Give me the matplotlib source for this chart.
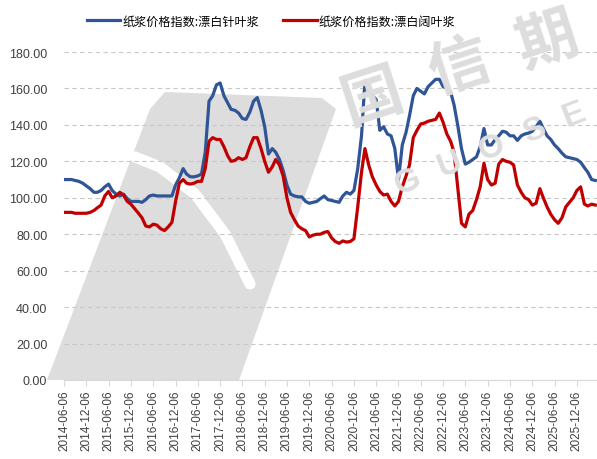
import matplotlib
matplotlib.use('Agg')
import matplotlib.pyplot as plt
import matplotlib.dates as mdates
from matplotlib.patches import Polygon
import pandas as pd

# monthly readings, starting 2014-06
blue = [110, 110, 110, 109.5, 109, 108, 106.5, 105, 103, 103, 104, 106,
        107.5, 104, 102, 101, 102, 99.5, 98, 98, 98, 97.5, 99, 101,
        101.5, 101, 101, 101, 101, 101, 107, 111, 116, 113, 111.5, 111.5,
        112, 113, 125, 153, 156, 162, 163, 156, 152, 148.5, 148, 146.5,
        143.5, 143, 147, 153, 155, 148, 139, 124, 127, 125, 121, 115,
        107, 102, 101, 100.5, 100.5, 98, 97, 97.5, 98, 99.5, 101, 99,
        98.5, 98, 97.5, 101, 103, 102, 104, 116, 134, 164, 158, 156,
        154, 137, 139, 135, 134, 127, 110, 129, 136, 145, 156, 160,
        158.5, 157, 161, 163, 165, 165, 161, 160, 158, 151, 139.5, 127,
        118.5, 119.5, 121, 122.5, 128, 138, 129, 129, 132, 134, 136.5, 136,
        134, 134, 131.5, 134, 135, 135.5, 136.5, 139, 142, 138, 134, 132,
        129, 127, 124.5, 122.5, 122, 121.5, 121, 119.5, 116.5, 114, 110, 109.5]
red = [92, 92, 92, 91.5, 91.5, 91.5, 91.5, 92, 93, 94.5, 96, 101,
       103.5, 100, 101, 103, 101.5, 98, 96.5, 94, 91.5, 89, 84.5, 84,
       85.5, 85, 83, 82, 84, 86.5, 98, 108, 110, 108, 107.5, 108,
       109, 109, 116, 131, 133, 132, 132, 128, 123, 120, 120.5, 122,
       121, 122, 128, 133, 133, 127, 120, 114, 117, 121, 118, 112,
       100, 92, 88, 84.5, 83, 82, 78.5, 79.5, 80, 80, 81, 81.5,
       78, 76, 75, 76.3, 75.7, 76, 77.5, 95, 114, 127, 118, 111.5,
       107, 103.5, 101.5, 102, 98, 95.5, 98, 106, 112, 118, 133, 137,
       140.5, 141, 142, 142.5, 143, 146.5, 141.5, 135, 131, 125, 105, 86,
       84, 91, 93, 99, 106, 119, 110, 107, 108, 118.5, 121, 120,
       119.5, 118, 107, 103, 100, 99, 96, 97, 105, 100, 95, 91,
       88, 86, 89, 95, 97.5, 100, 104, 106, 96.5, 95.5, 96.5, 96]
names = ['纸浆价格指数:漂白针叶浆', '纸浆价格指数:漂白阔叶浆']
dates = pd.date_range('2014-06-06', periods=len(blue), freq=pd.DateOffset(months=1))
tick_dates = pd.date_range('2014-06-06', '2025-12-06', freq=pd.DateOffset(months=6))

W, H = 597, 460
fig = plt.figure(figsize=(W / 100, H / 100), dpi=100)
ax = fig.add_axes([64 / W, 1 - 381 / H, 1 - 64 / W, (381 - 53) / H])

# watermark (light grey logo + text)
def px(x, y):
    return (x / W, 1 - y / H)

wm = '#dddddd'
poly = Polygon([px(*p) for p in [(165, 93), (322, 99), (336, 110), (239, 381), (47, 381), (150, 110)]],
               closed=True, transform=fig.transFigure, facecolor=wm, edgecolor='none',
               zorder=0.1, clip_on=False)
ax.add_patch(poly)
sx = [135, 160, 195, 225, 250]
sy = [158, 168, 195, 235, 285]
ax.plot([px(a, b)[0] for a, b in zip(sx, sy)], [px(a, b)[1] for a, b in zip(sx, sy)],
        color='white', lw=8, solid_capstyle='round', transform=fig.transFigure,
        zorder=0.2, clip_on=False)
for ch, (x, y) in zip('国信期', [(372, 98), (460, 68), (548, 42)]):
    fig.text(*px(x, y), ch, fontsize=44, fontweight='bold', color=wm, rotation=18,
             ha='center', va='center', family=['Noto Sans CJK SC', 'DejaVu Sans'], zorder=0)
for ch, (x, y) in zip('GUOSE', [(408, 182), (450, 165), (492, 148), (534, 131), (574, 115)]):
    fig.text(*px(x, y), ch, fontsize=24, fontweight='bold', color=wm, rotation=21,
             ha='center', va='center', family='Liberation Sans', zorder=0)

ax.plot(dates, blue, color='#2F5597', lw=2.3, label=names[0], zorder=3)
ax.plot(dates, red, color='#C00000', lw=2.3, label=names[1], zorder=3)

ax.set_ylim(0, 180)
ax.set_yticks(range(0, 181, 20))
ax.set_yticklabels([f'{v:.2f}' for v in range(0, 181, 20)])
ax.set_xlim(dates[0], pd.Timestamp('2026-05-20'))
ax.set_xticks(tick_dates)
ax.xaxis.set_major_formatter(mdates.DateFormatter('%Y-%m-%d'))
for lab in ax.get_xticklabels():
    lab.set_rotation(90)

ax.set_axisbelow(True)
ax.grid(axis='y', color='#c8c8c8', lw=0.8, linestyle=(0, (4, 3)))
for s in ['top', 'right', 'left']:
    ax.spines[s].set_visible(False)
ax.spines['bottom'].set_color('#d9d9d9')
ax.tick_params(axis='y', length=0, pad=12, labelsize=9, labelcolor='#404040')
ax.tick_params(axis='x', length=4, color='#d9d9d9', pad=3, labelsize=8.5, labelcolor='#404040')
for lab in ax.get_xticklabels() + ax.get_yticklabels():
    lab.set_family('Liberation Sans')
ax.patch.set_alpha(0)

fig.legend(loc='center', bbox_to_anchor=(271 / W, 0.952), ncol=2, frameon=False,
           handlelength=2.8, columnspacing=2.0, handletextpad=0.15,
           prop={'family': ['Noto Sans CJK SC', 'DejaVu Sans'], 'size': 8.7})

fig.savefig('out.png', dpi=100)
